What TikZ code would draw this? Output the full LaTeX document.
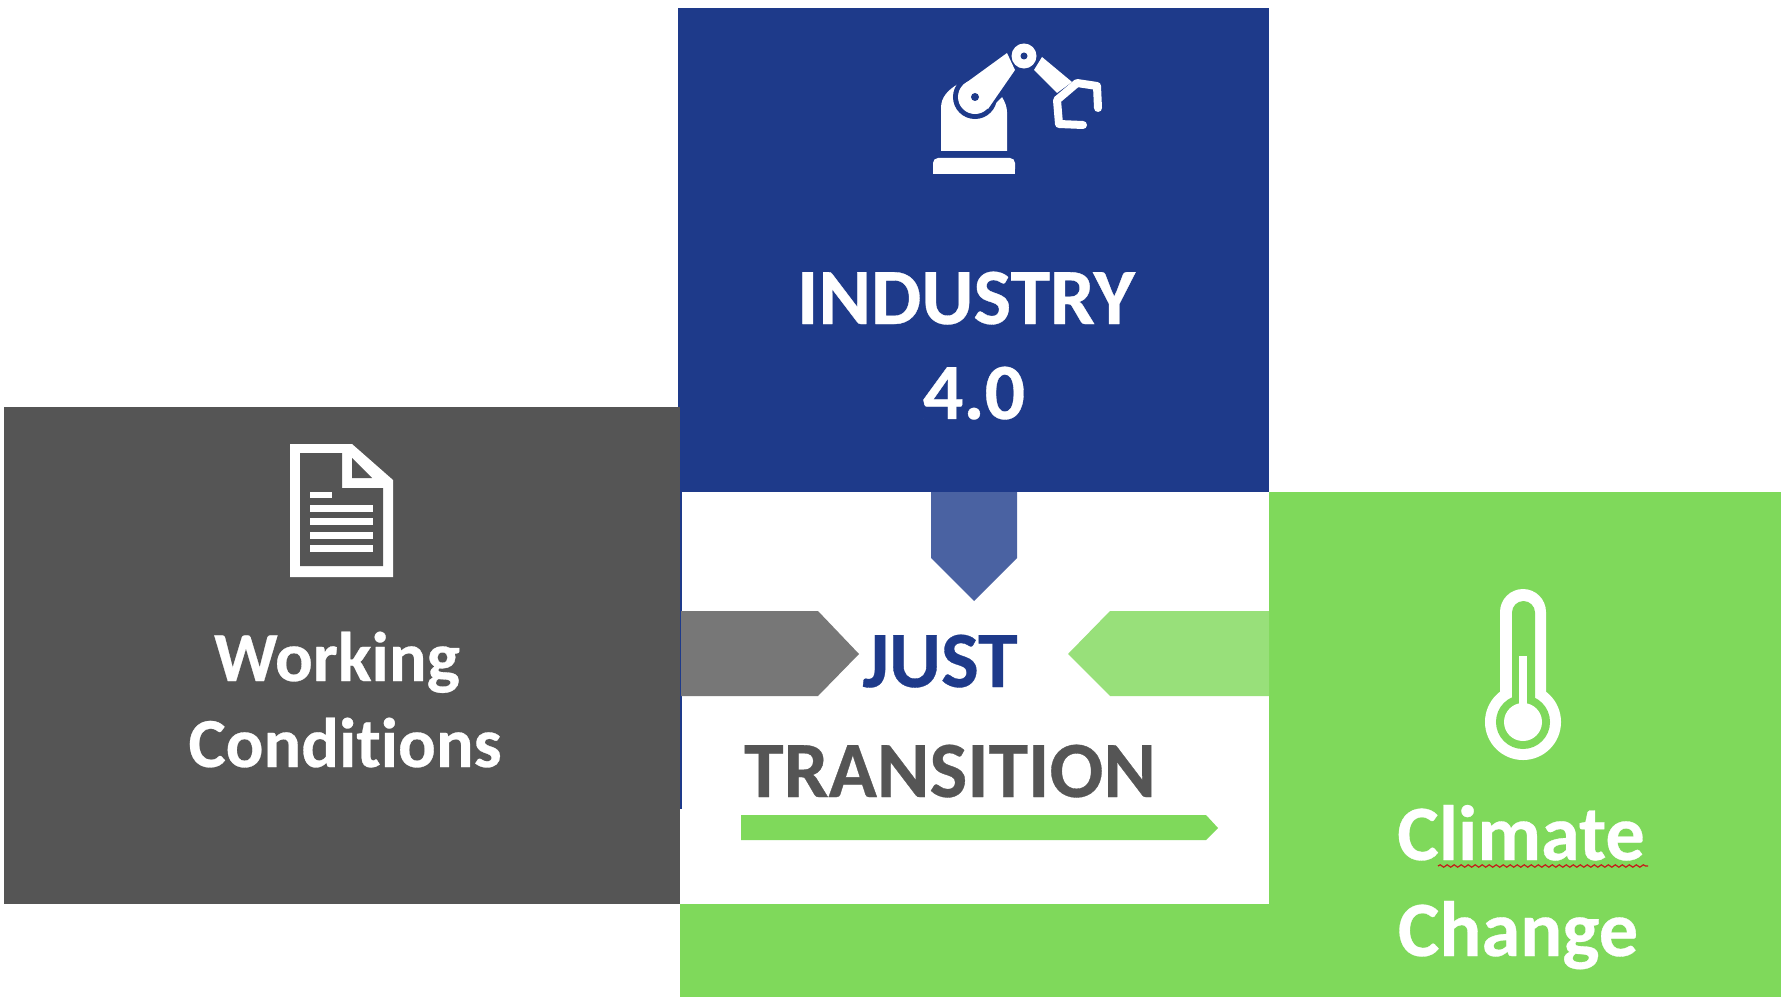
\documentclass[tikz,border=0pt]{standalone}
\usepackage{xcolor}
\usepackage{fontspec}
\setmainfont{Carlito}[Ligatures=NoCommon, FakeBold=0.4]
\usepackage{tikz}
\usetikzlibrary{decorations.pathmorphing}
\definecolor{navy}{HTML}{1E3A8A}
\definecolor{slate}{HTML}{555555}
\definecolor{leaf}{HTML}{7FD95B}
\definecolor{navylight}{HTML}{4A62A2}
\definecolor{slatelight}{HTML}{777777}
\definecolor{leaflight}{HTML}{98E07A}
\tikzset{
    panelfont/.style={font=\bfseries\fontsize{22.7}{26}\selectfont, anchor=base, inner sep=0pt},
    greenfont/.style={font=\bfseries\fontsize{22.3}{26}\selectfont, anchor=base, inner sep=0pt, text=white},
    smallfont/.style={font=\bfseries\fontsize{20}{24}\selectfont, anchor=base, inner sep=0pt, text=white},
    icon/.style={white, line join=miter}
}

\begin{document}
\begin{tikzpicture}[x=0.01cm, y=-0.01cm]
        \useasboundingbox (0,0) rectangle (1781,997);
        \fill[white] (0,0) rectangle (1781,997);

        \fill[navy] (678,8) rectangle (1269,492);
        \fill[slate] (4,407) rectangle (680,904);
        \fill[leaf] (1269,492) rectangle (1781,997);
        \fill[leaf] (680,904) rectangle (1269,997);
        \fill[navy] (680,492) rectangle (681.5,809);

        \fill[navylight] (931,492) -- (1017,492) -- (1017,558) -- (974,601) -- (931,558) -- cycle;
        \fill[slatelight] (681,611) -- (818,611) -- (859,654) -- (818,696) -- (681,696) -- cycle;
        \fill[leaflight] (1269,611) -- (1110,611) -- (1068,654) -- (1110,696) -- (1269,696) -- cycle;
        \fill[leaf] (741,815) -- (1206,815) -- (1218,828) -- (1206,840) -- (741,840) -- cycle;

        \node[panelfont, text=white] (industry) at (966,324) {INDUSTRY};
        \node[panelfont, text=white] (version) at (974,419) {4.0};
        \node[panelfont, text=navy] (just) at (940,687) {JUST};
        \node[panelfont, text=slate] (transition) at (950,797) {TRANSITION};
        \node[smallfont] (working) at (337,681) {Working};
        \node[smallfont] (conditions) at (345,767) {Conditions};
        \node[greenfont] (climate) at (1521,860) {Climate};
        \node[greenfont] (change) at (1518,956) {Change};

        \draw[red!75!black!90, line width=0.012cm, decorate, decoration={snake, amplitude=0.012cm, segment length=0.07cm}] (1438,866) -- (1648,866);

        % robot
        \fill[icon, rounded corners=0.05cm] (933,174) -- (933,158) -- (1015,158) -- (1015,174) -- cycle;
        \fill[icon] (933,174) rectangle (1015,168);
        \fill[icon] (941,151) -- (941,108) .. controls (941,97) and (948,90) .. (958,84) -- (985,110) -- (1002,97) .. controls (1005,102) and (1007,107) .. (1007,112) -- (1007,151) -- cycle;
        \fill[navy] (975,97) circle[radius=0.22cm];
        \draw[navy, line width=0.38cm] (975,97) -- (1012,60);
        \fill[white] (975,97) circle[radius=0.17cm];
        \fill[white] (963,85) -- (1007,53) -- (1015,70) -- (988,109) -- cycle;
        \fill[navy] (975,97) circle[radius=0.04cm];
        \fill[white] (1024,56) circle[radius=0.125cm];
        \fill[navy] (1024,56) circle[radius=0.035cm];
        \fill[white] (1042,57) -- (1034,70) -- (1057,93) -- (1072,82) -- cycle;
        \draw[white, line width=0.08cm, line cap=round, line join=round] (1098,108) -- (1097,86) -- (1077,83) -- (1057,100) -- (1059,124) -- (1083,125);

        % document
        \fill[icon] (290,444) -- (352,444) -- (393,480) -- (393,577) -- (290,577) -- cycle;
        \fill[slate] (300,453) -- (342,453) -- (342,488) -- (383,488) -- (383,566) -- (300,566) -- cycle;
        \fill[slate] (352,458) -- (372,478) -- (352,478) -- cycle;
        \fill[white] (310,492) rectangle (332,498);
        \foreach \liney in {505,518,532,545}
            \fill[white] (310,\liney) rectangle (373,\liney+7);

        % thermometer
        \fill[white, rounded corners=0.23cm] (1500,589) rectangle (1546,715);
        \fill[white] (1523,722) circle[radius=0.38cm];
        \fill[leaf, rounded corners=0.115cm] (1512,601) rectangle (1535,720);
        \fill[leaf] (1523,722) circle[radius=0.27cm];
        \fill[white] (1523,722) circle[radius=0.19cm];
        \fill[white] (1519,656) rectangle (1527,710);
    \end{tikzpicture}
\end{document}
